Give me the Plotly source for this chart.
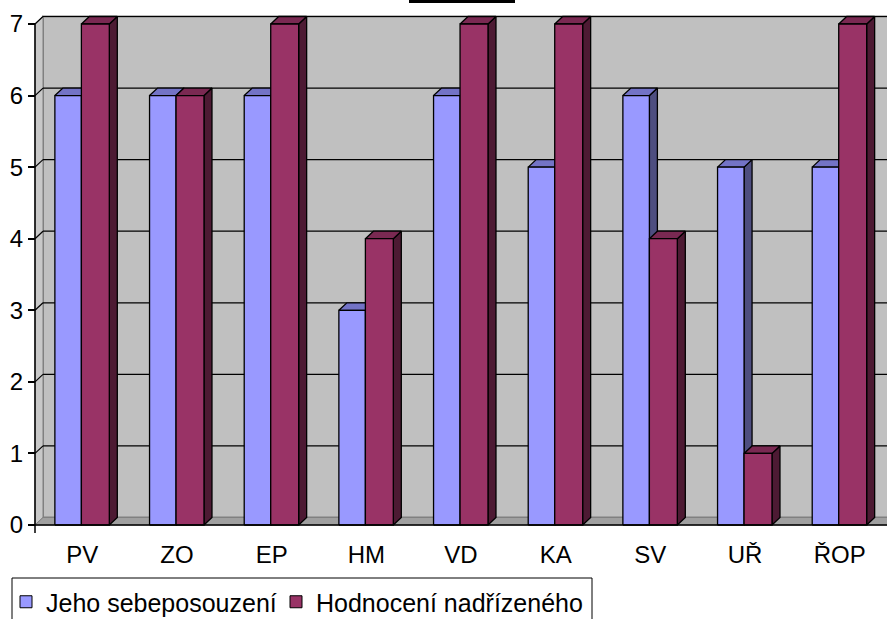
import plotly.graph_objects as go

# ---- data ----
categories = ["PV", "ZO", "EP", "HM", "VD", "KA", "SV", "UŘ", "ŘOP"]
self_assessment = [6, 6, 6, 3, 6, 5, 6, 5, 5]        # Jeho sebeposouzení
supervisor_rating = [7, 6, 7, 4, 7, 7, 4, 1, 7]      # Hodnocení nadřízeného
series_names = ["Jeho sebeposouzení", "Hodnocení nadřízeného"]
y_ticks = [0, 1, 2, 3, 4, 5, 6, 7]

# ---- geometry / style ----
W, H = 887, 619
X0_PX, Y0_PX, YTOP_PX = 35, 525, 24          # front-left corner, value 0 and top value
N = len(categories)
Y_MAX = max(y_ticks)
PX_PER_CAT = (W - X0_PX) / N
PX_PER_UNIT = (Y0_PX - YTOP_PX) / Y_MAX
DX = 8 / PX_PER_CAT            # depth offset (x) in data units
DY = 7.5 / PX_PER_UNIT         # depth offset (y) in data units
Y_BELOW = 8 / PX_PER_UNIT      # axis line overhang below zero

FONT = "Arial, 'Liberation Sans', sans-serif"
BLUE = dict(front="#9999FF", top="#7373C6", side="#4E4E80")
RED = dict(front="#993366", top="#7A2952", side="#4D1A33")
WALL = "#C0C0C0"

# legend frame and entry positions (pixels)
LEG_L, LEG_T, LEG_R = 12, 578, 592
LEG_ENTRY_X = [6, 276]
LEG_ENTRY_TOP = 579


def poly_trace(polys, fill, line_color="black", width=1):
    xs, ys = [], []
    for p in polys:
        for x, y in p:
            xs.append(x)
            ys.append(y)
        xs.append(p[0][0])
        ys.append(p[0][1])
        xs.append(None)
        ys.append(None)
    return go.Scatter(x=xs, y=ys, mode="lines", fill="toself", fillcolor=fill,
                      line=dict(color=line_color, width=width),
                      showlegend=False, hoverinfo="skip")


def line_trace(segs, color="black", width=1):
    xs, ys = [], []
    for (x1, y1), (x2, y2) in segs:
        xs += [x1, x2, None]
        ys += [y1, y2, None]
    return go.Scatter(x=xs, y=ys, mode="lines", line=dict(color=color, width=width),
                      showlegend=False, hoverinfo="skip")


def bar_faces(values, a, b):
    fronts, tops, sides = [], [], []
    for i, v in enumerate(values):
        c = i + 0.5
        fronts.append([(c + a, 0), (c + b, 0), (c + b, v), (c + a, v)])
        tops.append([(c + a, v), (c + b, v), (c + b + DX, v + DY), (c + a + DX, v + DY)])
        sides.append([(c + b, 0), (c + b + DX, DY), (c + b + DX, v + DY), (c + b, v)])
    return fronts, tops, sides


fig = go.Figure()

# walls and floor
fig.add_trace(poly_trace([[(DX, DY), (N + DX, DY), (N + DX, Y_MAX + DY), (DX, Y_MAX + DY)]],
                         WALL, line_color="#808080", width=2))
fig.add_trace(poly_trace([[(0, 0), (DX, DY), (DX, Y_MAX + DY), (0, Y_MAX)]],
                         "#C8C8C8", line_color="#808080", width=1))
fig.add_trace(poly_trace([[(0, 0), (N, 0), (N + DX, DY), (DX, DY)]],
                         "#A0A0A0", line_color="#808080", width=1))

# gridlines on the back wall and the side wall
grid = []
for k in y_ticks[1:]:
    grid.append(((DX, k + DY), (N + DX, k + DY)))
    grid.append(((0, k), (DX, k + DY)))
fig.add_trace(line_trace(grid, "black", 1.2))

# bars: first series left of the category centre, second right of it
for vals, col, (a, b) in [(self_assessment, BLUE, (-0.29, -0.01)),
                          (supervisor_rating, RED, (-0.01, 0.285))]:
    fr, tp, sd = bar_faces(vals, a, b)
    fig.add_trace(poly_trace(sd, col["side"], width=1.3))
    fig.add_trace(poly_trace(tp, col["top"], width=1.3))
    fig.add_trace(poly_trace(fr, col["front"], width=1.3))

# axis lines
fig.add_trace(line_trace([((0, -Y_BELOW), (0, Y_MAX)), ((0, 0), (N, 0))], "black", 1.5))

# legend entries, one small legend per series
legend_ids = ["legend", "legend2"]
for name, col, lid in zip(series_names, [BLUE, RED], legend_ids):
    fig.add_trace(go.Scatter(x=[None], y=[None], mode="markers", name=name, legend=lid,
                             marker=dict(symbol="square", size=12, color=col["front"],
                                         line=dict(color="black", width=1))))

legend_style = dict(y=1 - LEG_ENTRY_TOP / H, xanchor="left", yanchor="top",
                    orientation="h", bgcolor="rgba(0,0,0,0)", borderwidth=0,
                    font=dict(family=FONT, size=25, color="black"))

fig.update_layout(
    template="none",
    width=W, height=H,
    margin=dict(l=0, r=0, t=0, b=0, autoexpand=False),
    paper_bgcolor="white", plot_bgcolor="white",
    font=dict(family=FONT, size=24, color="black"),
    xaxis=dict(domain=[0, 1], range=[-X0_PX / PX_PER_CAT, N],
               tickvals=[i + 0.5 for i in range(N)], ticktext=categories,
               ticks="", ticklabelstandoff=13, showgrid=False, zeroline=False,
               showline=False, anchor="free", position=(H - Y0_PX) / H,
               automargin=False,
               tickfont=dict(family=FONT, size=24, color="black")),
    yaxis=dict(domain=[0, 1],
               range=[-(H - Y0_PX) / PX_PER_UNIT, Y0_PX / PX_PER_UNIT],
               tickvals=y_ticks, ticks="outside", ticklen=7, tickwidth=1.5,
               tickcolor="black", showgrid=False, zeroline=False, showline=False,
               anchor="free", position=X0_PX / W, automargin=False,
               tickfont=dict(family=FONT, size=24, color="black")),
    showlegend=True,
    legend=dict(x=LEG_ENTRY_X[0] / W, **legend_style),
    legend2=dict(x=LEG_ENTRY_X[1] / W, **legend_style),
    shapes=[
        dict(type="rect", xref="paper", yref="paper",
             x0=409 / W, x1=515 / W, y0=1 - 3 / H, y1=1,
             fillcolor="black", line=dict(width=0)),
        dict(type="rect", xref="paper", yref="paper",
             x0=LEG_L / W, x1=LEG_R / W, y0=-0.02, y1=1 - LEG_T / H,
             fillcolor="rgba(0,0,0,0)", line=dict(color="black", width=1)),
    ],
)

fig.write_html("out.html")
